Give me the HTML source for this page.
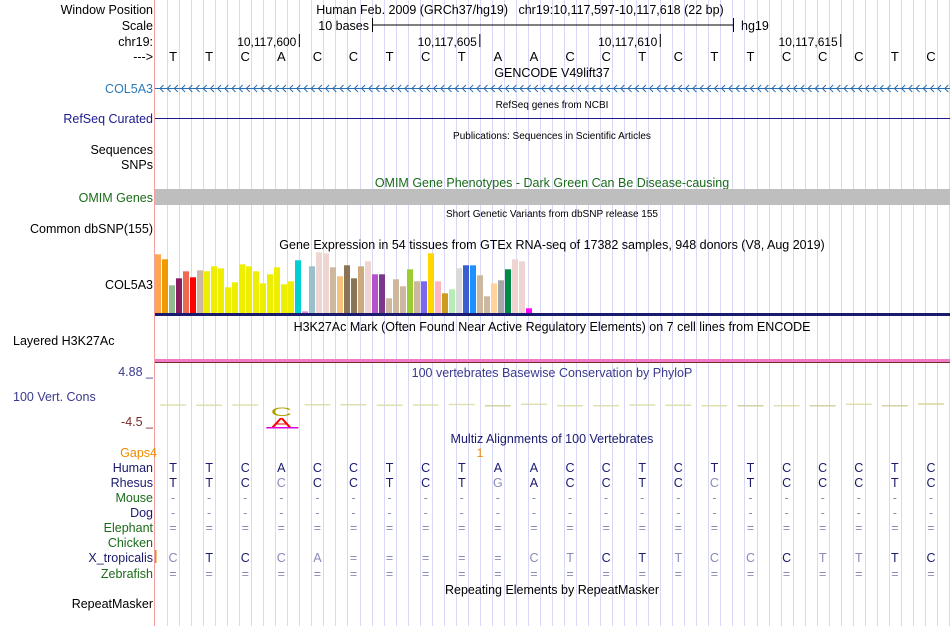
<!DOCTYPE html>
<html><head><meta charset="utf-8"><style>
html,body{margin:0;padding:0;background:#fff;width:950px;height:626px;overflow:hidden}
svg{display:block;font-family:"Liberation Sans",sans-serif}
</style></head><body>
<svg id="c" width="950" height="626" xmlns="http://www.w3.org/2000/svg">
<g id="grid"></g>
<line x1="154.5" y1="0" x2="154.5" y2="626" stroke="#f4a0a0"/>
<g font-size="12.5" fill="#000" text-anchor="end">
<text x="153" y="14">Window Position</text>
<text x="153" y="30">Scale</text>
<text x="153" y="46">chr19:</text>
<text x="153" y="61">---&gt;</text>
<text x="153" y="93" fill="#2a7ab8">COL5A3</text>
<text x="153" y="123" fill="#1a1a8c">RefSeq Curated</text>
<text x="153" y="154">Sequences</text>
<text x="153" y="169">SNPs</text>
<text x="153" y="202" fill="#1a6b1a">OMIM Genes</text>
<text x="153" y="233">Common dbSNP(155)</text>
<text x="153" y="289">COL5A3</text>
<text x="153" y="376" fill="#3a3a8c">4.88 _</text>
<text x="153" y="426" fill="#7a2a2a">-4.5 _</text>
<text x="157" y="457" fill="#f08a00">Gaps4</text>
<text x="153" y="472" fill="#1a1a6e">Human</text>
<text x="153" y="487" fill="#1a1a6e">Rhesus</text>
<text x="153" y="502" fill="#1a6b1a">Mouse</text>
<text x="153" y="517" fill="#1a1a6e">Dog</text>
<text x="153" y="532" fill="#1a6b1a">Elephant</text>
<text x="153" y="547" fill="#1a6b1a">Chicken</text>
<text x="153" y="562" fill="#1a1a6e">X_tropicalis</text>
<text x="153" y="578" fill="#1a6b1a">Zebrafish</text>
<text x="153" y="608">RepeatMasker</text>
</g>
<text x="13" y="345" font-size="12.5">Layered H3K27Ac</text>
<text x="13" y="401" font-size="12.5" fill="#3a3a8c">100 Vert. Cons</text>
<rect x="155" y="550" width="1.5" height="13" fill="#f08a00"/>
<g font-size="12.5" text-anchor="middle">
<text x="520" y="14">Human Feb. 2009 (GRCh37/hg19)&#160;&#160;&#160;chr19:10,117,597-10,117,618 (22 bp)</text>
<text x="552" y="77">GENCODE V49lift37</text>
<text x="552" y="108" font-size="10">RefSeq genes from NCBI</text>
<text x="552" y="139" font-size="10">Publications: Sequences in Scientific Articles</text>
<text x="552" y="187" fill="#1a6b1a">OMIM Gene Phenotypes - Dark Green Can Be Disease-causing</text>
<text x="552" y="217" font-size="10">Short Genetic Variants from dbSNP release 155</text>
<text x="552" y="249">Gene Expression in 54 tissues from GTEx RNA-seq of 17382 samples, 948 donors (V8, Aug 2019)</text>
<text x="552" y="331">H3K27Ac Mark (Often Found Near Active Regulatory Elements) on 7 cell lines from ENCODE</text>
<text x="552" y="377" fill="#3a3a8c">100 vertebrates Basewise Conservation by PhyloP</text>
<text x="552" y="443" fill="#1a1a6e">Multiz Alignments of 100 Vertebrates</text>
<text x="552" y="594">Repeating Elements by RepeatMasker</text>
</g>
<text x="480" y="457" font-size="12" fill="#f08a00" text-anchor="middle">1</text>
<g>
<text x="369" y="30" font-size="12.5" text-anchor="end">10 bases</text>
<line x1="372" y1="25" x2="733" y2="25" stroke="#000"/>
<line x1="372.5" y1="18" x2="372.5" y2="32" stroke="#000"/>
<line x1="733.5" y1="18" x2="733.5" y2="32" stroke="#000"/>
<text x="741" y="30" font-size="12.5">hg19</text>
</g>
<g id="ruler"></g>
<g id="bases"></g>
<g id="gene"></g>
<line x1="155" y1="118.5" x2="950" y2="118.5" stroke="#1a1a8c"/>
<rect x="155" y="189" width="795" height="16" fill="#bebebe"/>
<g id="gtex"></g>
<rect x="155" y="313" width="795" height="3" fill="#1a1a6e"/>
<rect x="155" y="359" width="795" height="3" fill="#f07ac8"/>
<rect x="155" y="362" width="795" height="1" fill="#7a2a2a"/>
<g id="cons"></g>
<g id="aln"></g>
</svg>
<script>
const bases = "TTCACCTCTAACCTCTTCCCTC".split("");
const rhesus = "TTCCCCTCTGACCTCCTCCCTC".split("");
const rhesusDiff = [0,0,0,1,0,0,0,0,0,1,0,0,0,0,0,1,0,0,0,0,0,0];
const xtropFix = ["C","T","C","C","A","=","=","=","=","=","C","T","C","T","T","C","C","C","T","T","T","C"];
const xtropLight = [1,0,0,1,1,0,0,0,0,0,1,1,0,0,1,1,1,0,1,1,0,0];
const rulerLabels = ["10,117,600","10,117,605","10,117,610","10,117,615"];
const rulerBaseIdx = [3,8,13,18];
const phylop = [0.3,0.2,0.3,-4.5,0.4,0.4,0.2,0.3,0.5,-0.2,0.6,0,0,0.3,0.2,0,-0.5,0,-0.4,0.6,-0.4,0.8];
const gtexValues = [58.7,53.7,27.7,34.7,41.7,35.7,42.7,41.7,46.7,44.7,25.7,30.7,48.7,46.7,41.7,29.7,38.7,45.7,28.7,31.7,52.7,1.7,46.7,60.7,59.7,45.7,36.7,47.7,34.7,46.7,51.7,38.7,38.7,14.7,33.7,26.7,43.7,31.7,31.7,59.7,31.7,19.7,23.7,44.7,47.7,47.7,37.7,16.7,29.7,32.7,43.7,53.7,51.7,4.7];
const gtexColors = ["#FFA54F","#EE9A00","#8FBC8F","#8B1C62","#EE6A50","#FF0000","#CDB79E","#EEEE00","#EEEE00","#EEEE00","#EEEE00","#EEEE00","#EEEE00","#EEEE00","#EEEE00","#EEEE00","#EEEE00","#EEEE00","#EEEE00","#EEEE00","#00CED1","#EE82EE","#9AC0CD","#EED5D2","#EED5D2","#CDB79E","#F4C27A","#8B7355","#8B7355","#CDAA7D","#EED5D2","#B452CD","#7A378B","#CDB79E","#CDB79E","#CDB79E","#9ACD32","#CDB79E","#7B68EE","#FFD700","#FFB6C1","#CD9B1D","#B4EEB4","#D9D9D9","#3A5FCD","#1E90FF","#CDB79E","#CDB79E","#FFD39B","#A6A6A6","#008B45","#EED5D2","#EED5D2","#FF00FF"];
const NS="http://www.w3.org/2000/svg";
const x0=155, pitch=794/22;
function bx(i){return x0+pitch*i+pitch/2;}
function mk(tag,attrs,parent){const e=document.createElementNS(NS,tag);for(const k in attrs)e.setAttribute(k,attrs[k]);parent.appendChild(e);return e;}
const grid=document.getElementById('grid');
for(let k=1;k<=66;k++){const x=Math.round(x0+pitch/3*k)+0.5;
 const l=mk('line',{x1:x,y1:0,x2:x,y2:626,stroke:'#d8d8f4'},grid);
 
 }
const ruler=document.getElementById('ruler');
rulerLabels.forEach((lab,j)=>{const tx=x0+pitch*(rulerBaseIdx[j]+1);
 const t=mk('text',{x:tx-3,y:46,'font-size':12,'text-anchor':'end'},ruler);t.textContent=lab;
 
 
 mk('line',{x1:tx,y1:34,x2:tx,y2:47,stroke:'#000'},ruler);});
const bg=document.getElementById('bases');
bases.forEach((b,i)=>{const t=mk('text',{x:bx(i),y:61,'font-size':13,'text-anchor':'middle'},bg);t.textContent=b;
 
 });
const gene=document.getElementById('gene');
mk('line',{x1:155,y1:88.5,x2:950,y2:88.5,stroke:'#2a6db0'},gene);
let d='';for(let x=160;x<948;x+=7.2){d+=`M${x+3.5},85L${x},88.5L${x+3.5},92`;}
mk('path',{d:d,stroke:'#2a6db0',fill:'none'},gene);
const gtex=document.getElementById('gtex');
const gBase=313, gScale=1, gPitch=7;
gtexValues.forEach((v,i)=>{const h=v*gScale;
 const r=mk('rect',{x:155+i*gPitch,y:gBase-h,width:gPitch-1,height:h,fill:gtexColors[i]},gtex);
 
 });
const cons=document.getElementById('cons');
const cZero=405, cScale=2.5;
phylop.forEach((v,i)=>{const x=bx(i)-13;
 if(v<-2){
  const cx=bx(i);
  const t=mk('text',{x:0,y:0,'font-size':14,'text-anchor':'middle',fill:'#aaa000',transform:`translate(${cx},416) scale(2.1,0.85)`},cons);t.textContent='C';
  
  
  const a=mk('text',{x:0,y:0,'font-size':14,'text-anchor':'middle',fill:'#ff0000',transform:`translate(${cx},427) scale(2.1,0.9)`},cons);a.textContent='A';
  
  
  mk('rect',{x:cx-15,y:427,width:32,height:1.5,fill:'#e000e0'},cons);
 } else {
  const r=mk('rect',{x:x,y:cZero-Math.max(v,0)*cScale,width:26,height:Math.max(Math.abs(v)*cScale,1.5),fill:v<0?'#c8c890':'#d8d8a0',opacity:0.8},cons);
  
  
 }});
const aln=document.getElementById('aln');
function row(arr,y,light,name){arr.forEach((c,i)=>{const isL=light?light[i]:0;
 const t=mk('text',{x:bx(i),y:y,'font-size':12.5,'text-anchor':'middle',fill:isL?'#8a8ab8':'#1a1a6e'},aln);t.textContent=c;
 
 });}
row(bases,472,null,'human-base');
row(rhesus,487,rhesusDiff,'rhesus-base');
row(bases.map(()=>'-'),502,bases.map(()=>1),'mouse-gap');
row(bases.map(()=>'-'),517,bases.map(()=>1),'dog-gap');
row(bases.map(()=>'='),532,bases.map(()=>1),'elephant-gap');
row(xtropFix,562,xtropFix.map((c,i)=>c==='='?1:xtropLight[i]),'xtrop-base');
row(bases.map(()=>'='),578,bases.map(()=>1),'zebrafish-gap');
</script>
</body></html>
